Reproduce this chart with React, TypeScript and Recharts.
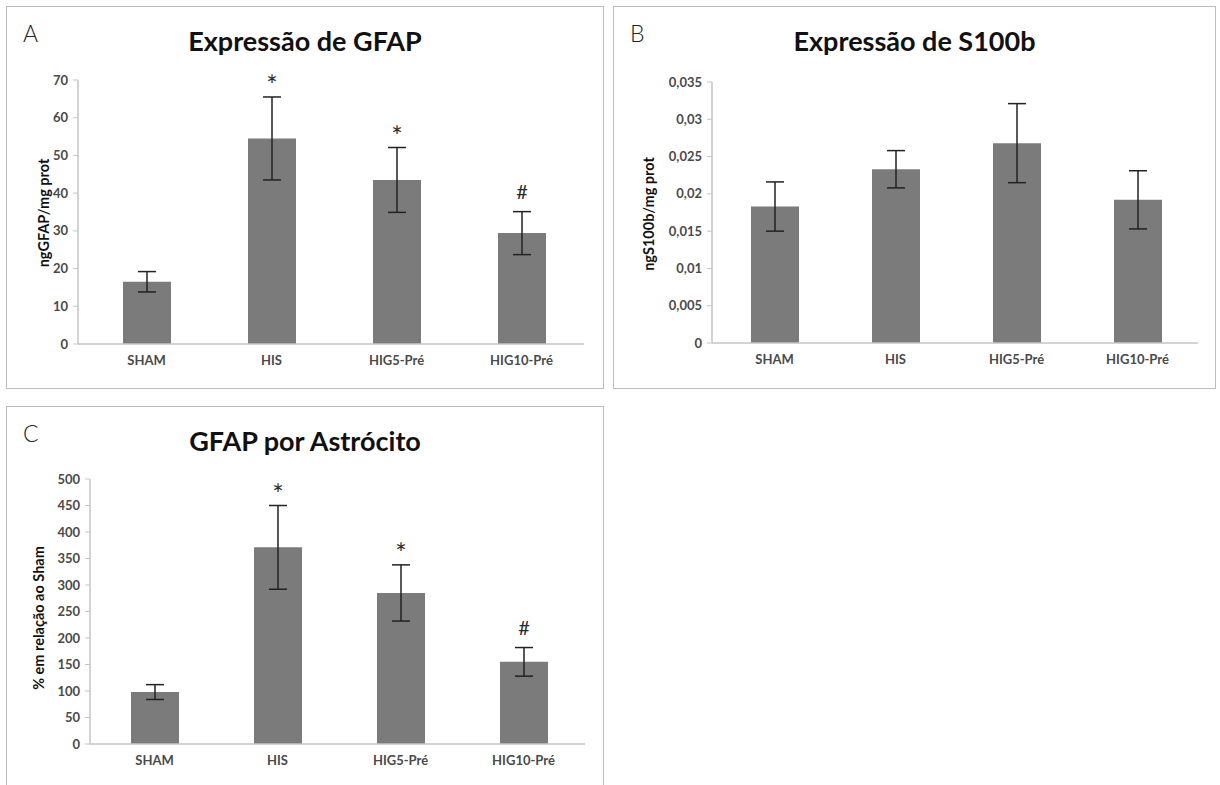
import React from "react";
import { BarChart, Bar, XAxis, YAxis, ErrorBar, LabelList } from "recharts";

/* ─── data ─── */
const groups = ["SHAM", "HIS", "HIG5-Pré", "HIG10-Pré"];

const gfapMean = [16.5, 54.5, 43.5, 29.4];
const gfapErr = [2.7, 11, 8.6, 5.7];
const gfapMarks = ["", "*", "*", "#"];
const gfapTicks = [0, 10, 20, 30, 40, 50, 60, 70];

const s100Mean = [0.0183, 0.0233, 0.0268, 0.0192];
const s100Err = [0.0033, 0.0025, 0.0053, 0.0039];
const s100Marks = ["", "", "", ""];
const s100Ticks = [0, 0.005, 0.01, 0.015, 0.02, 0.025, 0.03, 0.035];

const astroMean = [98, 371, 285, 155];
const astroErr = [14, 79, 53, 27];
const astroMarks = ["", "*", "*", "#"];
const astroTicks = [0, 50, 100, 150, 200, 250, 300, 350, 400, 450, 500];

const FONT = "Lato, 'Open Sans', sans-serif";
const BAR = "#7b7b7b";
const AXIS = "#c4c4c4";

const ptComma = (v: number) => String(v).replace(".", ",");

type PanelProps = {
  left: number; top: number; width: number; height: number;
  letter: string; title: string; yLabel: string; yLabelX: number; yLabelY: number;
  mean: number[]; err: number[]; marks: string[]; ticks: number[];
  fmt?: (v: number) => string;
  plotLeft: number; plotTop: number; plotRight: number; plotBottom: number; padLeft: number;
};

function Mark(props: any) {
  const vb = props.viewBox ?? props;
  const { x, y, width, height } = vb;
  const value = props.value;
  if (!value) return null;
  const d = props.rows?.[props.index];
  const errPx = d ? (height * d.err) / d.mean : 0;
  const errTop = y - errPx;
  const isHash = value === "#";
  return (
    <text
      x={x + width / 2}
      y={errTop - (isHash ? 13 : 2)}
      textAnchor="middle"
      fontFamily={FONT}
      fontSize={isHash ? 20 : 27}
      fill="#2a2a2a"
    >
      {value}
    </text>
  );
}

function Panel(p: PanelProps) {
  const rows = groups.map((g, i) => ({ name: g, mean: p.mean[i], err: p.err[i], mark: p.marks[i] }));
  const xAxisH = 30;
  const margin = {
    top: p.plotTop,
    right: p.width - p.plotRight,
    left: 0,
    bottom: p.height - p.plotBottom - xAxisH,
  };
  const tickStyle = { fill: "#4a4a4a", fontSize: 13, fontWeight: 700, fontFamily: FONT };
  return (
    <div
      style={{
        position: "absolute", left: p.left, top: p.top, width: p.width, height: p.height,
        border: "1.5px solid #bdbdbd", boxSizing: "border-box", background: "#fff",
      }}
    >
      <div style={{ position: "absolute", left: 16, top: 12, fontSize: 23, fontFamily: FONT, color: "#222", fontWeight: 300 }}>
        {p.letter}
      </div>
      <div
        style={{
          position: "absolute", left: 0, width: "100%", top: 18, textAlign: "center",
          fontSize: 27, fontWeight: 700, fontFamily: FONT, color: "#111", lineHeight: "32px",
        }}
      >
        {p.title}
      </div>
      <div
        style={{
          position: "absolute", left: p.yLabelX, top: p.yLabelY, whiteSpace: "nowrap",
          transform: "translate(-50%,-50%) rotate(-90deg)", fontSize: 14.5, fontWeight: 700,
          fontFamily: FONT, color: "#111",
        }}
      >
        {p.yLabel}
      </div>
      <div style={{ position: "absolute", left: -1.5, top: -1.5 }}>
        <BarChart width={p.width} height={p.height} data={rows} margin={margin} barSize={48}>
          <XAxis
            dataKey="name"
            axisLine={{ stroke: AXIS, strokeWidth: 1.5 }}
            tickLine={false}
            tickSize={0}
            tickMargin={12}
            tick={tickStyle}
            padding={{ left: p.padLeft, right: 0 }}
            height={xAxisH}
            interval={0}
          />
          <YAxis
            width={p.plotLeft}
            domain={[p.ticks[0], p.ticks[p.ticks.length - 1]]}
            ticks={p.ticks}
            interval={0}
            tickFormatter={p.fmt}
            axisLine={{ stroke: AXIS, strokeWidth: 1.5 }}
            tickLine={{ stroke: AXIS }}
            tickSize={5}
            tickMargin={5}
            tick={tickStyle}
          />
          <Bar dataKey="mean" fill={BAR} isAnimationActive={false}>
            <ErrorBar dataKey="err" width={9} stroke="#222" strokeWidth={1.5} />
            <LabelList dataKey="mark" content={(lp: any) => <Mark {...lp} rows={rows} />} />
          </Bar>
        </BarChart>
      </div>
    </div>
  );
}

export default function App() {
  return (
    <div style={{ position: "absolute", left: 0, top: 0, width: 1220, height: 785, background: "#fff", overflow: "hidden" }}>
      <Panel
        left={6} top={6} width={598} height={383}
        letter="A" title="Expressão de GFAP" yLabel="ngGFAP/mg prot" yLabelX={36} yLabelY={206}
        mean={gfapMean} err={gfapErr} marks={gfapMarks} ticks={gfapTicks}
        plotLeft={72} plotTop={74} plotRight={578} plotBottom={338} padLeft={6}
      />
      <Panel
        left={613} top={6} width={603} height={383}
        letter="B" title="Expressão de S100b" yLabel="ngS100b/mg prot" yLabelX={34} yLabelY={207}
        mean={s100Mean} err={s100Err} marks={s100Marks} ticks={s100Ticks} fmt={ptComma}
        plotLeft={99} plotTop={76} plotRight={585} plotBottom={337} padLeft={2}
      />
      <Panel
        left={6} top={406} width={598} height={392}
        letter="C" title="GFAP por Astrócito" yLabel="% em relação ao Sham" yLabelX={31} yLabelY={211}
        mean={astroMean} err={astroErr} marks={astroMarks} ticks={astroTicks}
        plotLeft={84} plotTop={73} plotRight={579} plotBottom={338} padLeft={3}
      />
    </div>
  );
}
